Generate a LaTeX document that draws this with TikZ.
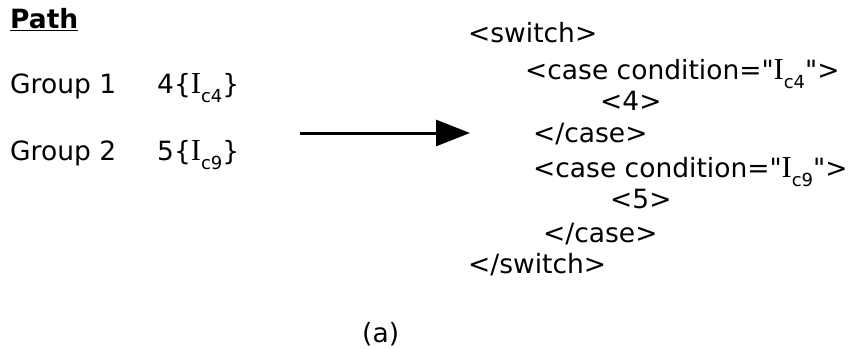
\documentclass[tikz,border=0pt]{standalone}
\usepackage{fontspec}
\newfontfamily\verd{DejaVu Sans}
\newfontfamily\serifI[Scale=1.15]{Liberation Serif}
\usetikzlibrary{arrows.meta}
% serif I with a small lowered index
\newcommand{\Icond}[1]{{\serifI I}\raisebox{-9pt}{\fontsize{18}{18}\selectfont #1}}

\begin{document}
\begin{tikzpicture}[x=1pt,y=-1pt,
    txt/.style={anchor=base west, inner sep=0pt, font=\verd\fontsize{26.5}{30}\selectfont},
    bigarrow/.style={line width=3pt, -{Triangle[length=34pt,width=26pt]}}]
    \useasboundingbox (0,0) rectangle (848,348);
    % left side: the path
    \node[txt, font=\verd\bfseries\fontsize{26.5}{30}\selectfont] (path) at (10,28) {\underline{Path}};
    \node[txt] (grp1) at (10,93) {Group 1};
    \node[txt] (val1) at (157,93) {4\{\Icond{c4}\}};
    \node[txt] (grp2) at (10,160) {Group 2};
    \node[txt] (val2) at (157,160) {5\{\Icond{c9}\}};
    % arrow
    \coordinate (from) at (300,133);
    \coordinate (to) at (470,133);
    \draw[bigarrow] (from) -- (to);
    % right side: the switch
    \node[txt] (sw) at (468,42) {<switch>};
    \node[txt] (case1) at (525,79) {<case condition="\Icond{c4}">};
    \node[txt] (four) at (600,110) {<4>};
    \node[txt] (end1) at (533,142) {</case>};
    \node[txt] (case2) at (533,177) {<case condition="\Icond{c9}">};
    \node[txt] (five) at (610,208) {<5>};
    \node[txt] (end2) at (543,242) {</case>};
    \node[txt] (endsw) at (468,273) {</switch>};
    % caption
    \node[txt] (cap) at (362,342) {(a)};
\end{tikzpicture}
\end{document}
